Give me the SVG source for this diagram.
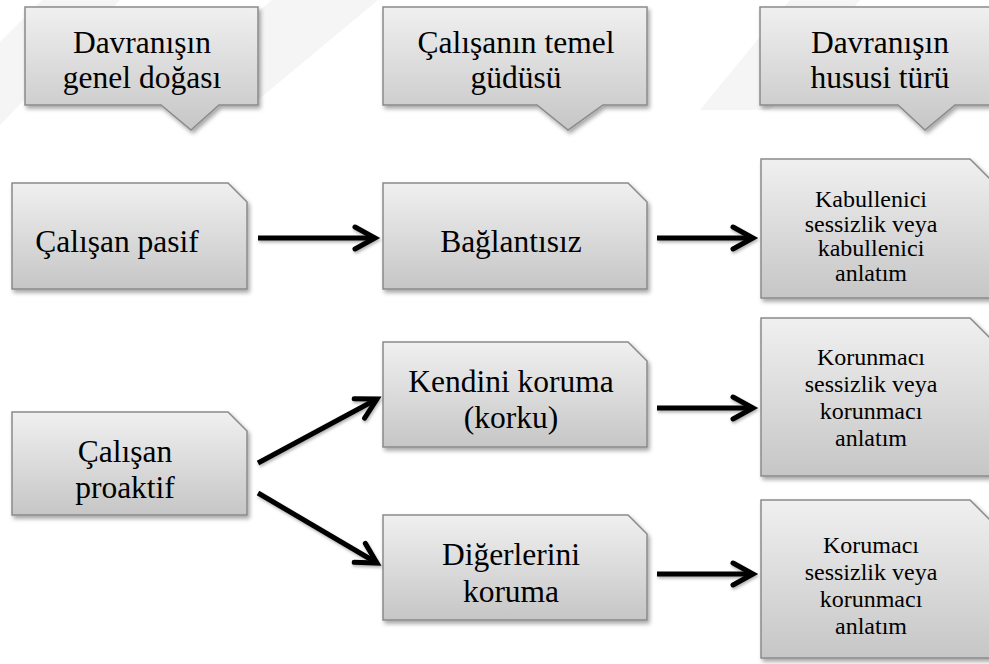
<svg xmlns="http://www.w3.org/2000/svg" width="989" height="664" viewBox="0 0 989 664">
  <style>
    .box { fill: url(#boxFill); stroke: #8a8a8a; stroke-width: 1.5; filter: url(#shadow); }
    .t31 { font-size: 31.5px; fill: #000; text-anchor: middle; }
    .t24 { font-size: 24px; fill: #000; text-anchor: middle; }
    .arrow { stroke: #000; stroke-width: 5; fill: none; marker-end: url(#head); }
    .wm { fill: #f5f5f5; }
  </style>
  <defs>
    <linearGradient id="boxFill" x1="0" y1="0" x2="0" y2="1">
      <stop offset="0" stop-color="#f0f0f0"/>
      <stop offset="1" stop-color="#c6c6c6"/>
    </linearGradient>
    <filter id="shadow" x="-10%" y="-10%" width="125%" height="130%">
      <feDropShadow dx="2" dy="3" stdDeviation="2" flood-color="#000" flood-opacity="0.35"/>
    </filter>
    <filter id="lineShadow" filterUnits="userSpaceOnUse" x="0" y="0" width="989" height="664">
      <feDropShadow dx="1" dy="2" stdDeviation="1.5" flood-color="#000" flood-opacity="0.3"/>
    </filter>
    <marker id="head" markerUnits="userSpaceOnUse" markerWidth="40" markerHeight="40" viewBox="-30 -20 40 40" refX="0" refY="0" orient="auto">
      <path d="M-20,-11 L0,0 L-20,11" stroke="#000" stroke-width="5" fill="none" stroke-linecap="round" stroke-linejoin="miter"/>
    </marker>
  </defs>

  <rect width="989" height="664" fill="#ffffff"/>

  <!-- faint background watermark bands -->
  <g id="watermark">
    <polygon class="wm" points="0,42 42,0 120,0 0,125"/>
    <polygon class="wm" points="272,0 378,0 252,105 146,105"/>
    <polygon class="wm" points="790,0 860,0 770,110 700,110"/>
  </g>

  <g font-family="'Liberation Serif', 'Times New Roman', Tinos, serif">
    <!-- column headers (callouts) -->
    <g id="header-1">
      <path class="box" d="M25,7 H258 V105 H219 L191,130 L161,105 H25 Z"/>
      <text class="t31" x="142" y="53">Davranışın</text>
      <text class="t31" x="142" y="88">genel doğası</text>
    </g>
    <g id="header-2">
      <path class="box" d="M383,7 H647 V105 H603 L568,130 L537,105 H383 Z"/>
      <text class="t31" x="516" y="53">Çalışanın temel</text>
      <text class="t31" x="516" y="88">güdüsü</text>
    </g>
    <g id="header-3">
      <path class="box" d="M760,7 H998 V105 H955 L925,130 L898,105 H760 Z"/>
      <text class="t31" x="880" y="53">Davranışın</text>
      <text class="t31" x="880" y="88">hususi türü</text>
    </g>

    <!-- left column -->
    <g id="node-pasif">
      <path class="box" d="M12,183 H228 L247,202 V289 H12 Z"/>
      <text class="t31" x="117" y="252">Çalışan pasif</text>
    </g>
    <g id="node-proaktif">
      <path class="box" d="M12,412 H228 L247,431 V515 H12 Z"/>
      <text class="t31" x="125" y="462">Çalışan</text>
      <text class="t31" x="125" y="498">proaktif</text>
    </g>

    <!-- middle column -->
    <g id="node-baglantisiz">
      <path class="box" d="M383,183 H628 L647,202 V289 H383 Z"/>
      <text class="t31" x="511" y="252">Bağlantısız</text>
    </g>
    <g id="node-kendini">
      <path class="box" d="M383,342 H628 L647,361 V447 H383 Z"/>
      <text class="t31" x="511" y="392">Kendini koruma</text>
      <text class="t31" x="511" y="428">(korku)</text>
    </g>
    <g id="node-digerlerini">
      <path class="box" d="M383,515 H628 L647,534 V620 H383 Z"/>
      <text class="t31" x="511" y="565">Diğerlerini</text>
      <text class="t31" x="511" y="602">koruma</text>
    </g>

    <!-- right column -->
    <g id="node-kabullenici">
      <path class="box" d="M761,159 H970 L995,184 V298 H761 Z"/>
      <text class="t24" x="871" y="207">Kabullenici</text>
      <text class="t24" x="871" y="232">sessizlik veya</text>
      <text class="t24" x="871" y="256">kabullenici</text>
      <text class="t24" x="871" y="281">anlatım</text>
    </g>
    <g id="node-korunmaci">
      <path class="box" d="M761,318 H970 L995,343 V476 H761 Z"/>
      <text class="t24" x="871" y="365">Korunmacı</text>
      <text class="t24" x="871" y="392">sessizlik veya</text>
      <text class="t24" x="871" y="419">korunmacı</text>
      <text class="t24" x="871" y="446">anlatım</text>
    </g>
    <g id="node-korumaci">
      <path class="box" d="M761,500 H970 L995,525 V658 H761 Z"/>
      <text class="t24" x="871" y="553">Korumacı</text>
      <text class="t24" x="871" y="580">sessizlik veya</text>
      <text class="t24" x="871" y="607">korunmacı</text>
      <text class="t24" x="871" y="634">anlatım</text>
    </g>
  </g>

  <!-- connectors -->
  <g id="connectors" filter="url(#lineShadow)">
    <line class="arrow" x1="258" y1="238" x2="375" y2="238"/>
    <line class="arrow" x1="657" y1="238" x2="753" y2="238"/>
    <line class="arrow" x1="258" y1="463" x2="377" y2="399"/>
    <line class="arrow" x1="258" y1="493" x2="377" y2="563"/>
    <line class="arrow" x1="657" y1="408" x2="753" y2="408"/>
    <line class="arrow" x1="657" y1="574" x2="753" y2="574"/>
  </g>
</svg>
